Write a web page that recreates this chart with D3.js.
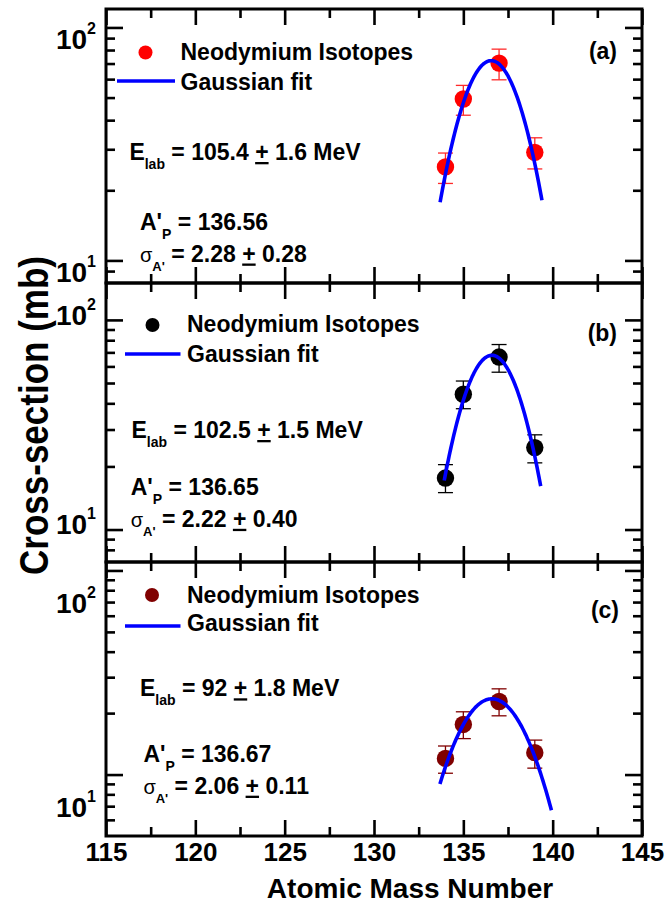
<!DOCTYPE html>
<html>
<head>
<meta charset="utf-8">
<script src="https://cdn.jsdelivr.net/npm/d3@7"></script>
<style>
  html, body { margin: 0; padding: 0; background: #fff; }
  svg { display: block; font-family: "Liberation Sans", Arial, sans-serif; font-weight: bold; }
  text { white-space: pre; }
</style>
</head>
<body>
<div id="chart"></div>
<script>
// ---- data ----
const massNumbers = [134, 135, 137, 139];
const panelLabels = ["(a)", "(b)", "(c)"];

const crossSectionA = [25.2, 49.3, 70.3, 29.1];
const errHighA = [28.9, 56.4, 80.7, 33.6];
const errLowA = [21.4, 42.0, 59.6, 24.7];

const crossSectionB = [17.6, 44.2, 66.5, 24.6];
const errHighB = [20.4, 51.1, 76.3, 28.3];
const errLowB = [15.0, 37.7, 56.3, 20.8];

const crossSectionC = [12.0, 17.6, 22.8, 12.8];
const errHighC = [13.8, 20.3, 26.3, 14.75];
const errLowC = [10.15, 15.0, 19.4, 10.75];

// gaussian fit curves (as drawn)
const fitCentroid = [136.56, 136.60, 136.60];
const fitPeak = [72, 67.8, 23.5];
const fitWidth = [1.71, 1.61, 2.10];
const fitFrom = [133.7, 133.93, 133.69];
const fitTo = [139.4, 139.33, 139.93];

// annotations
const energyLab = ["105.4", "102.5", "92"];
const energyErr = ["1.6", "1.5", "1.8"];
const apValues = ["136.56", "136.65", "136.67"];
const sigmaValues = ["2.28", "2.22", "2.06"];
const sigmaErr = ["0.28", "0.40", "0.11"];

// axes
const yDomains = [[8, 120], [7, 150], [5, 110]];
const xMajorTicks = [115, 120, 125, 130, 135, 140, 145];
const xMinorTicks = [117.5, 122.5, 127.5, 132.5, 137.5, 142.5];
const yMajorTicks = [10, 100];
const yMinorTicks = [2, 3, 4, 5, 6, 7, 8, 9, 20, 30, 40, 50, 60, 70, 80, 90];
const yMajorExponents = ["1", "2"];

// ---- layout ----
const width = 667, height = 903;
const left = 106, right = 642;
const panelTops = [9, 283, 562];
const panelBottoms = [283, 562, 836];
const pointColors = ["#ff0000", "#000000", "#800000"];
const barColors = ["#ff2a2a", "#000000", "#800000"];
const labelBaseShift = [21.5, 4.7, 42.2];
const layout = [
    { dot: [145.5, 52.5], line: [117, 175, 81], txt: [180.5, 60, 90], tag: [617, 59], elab: [129.4, 160], ap: [140, 230], sig: [140, 261.5] },
    { dot: [152.5, 325], line: [125, 180.5, 354], txt: [187, 332.3, 361.8], tag: [617, 340.7], elab: [131.5, 438], ap: [130.7, 495], sig: [130.7, 526.8] },
    { dot: [152, 595], line: [125, 180.5, 626], txt: [187, 602.6, 631.3], tag: [619, 617.8], elab: [140, 696.3], ap: [143.4, 761.6], sig: [143.4, 793.7] }
];

const series = [
    { v: crossSectionA, hi: errHighA, lo: errLowA },
    { v: crossSectionB, hi: errHighB, lo: errLowB },
    { v: crossSectionC, hi: errHighC, lo: errLowC }
];

const svg = d3.select("#chart").append("svg")
    .attr("width", width)
    .attr("height", height)
    .style("background", "#fff");

const x = d3.scaleLinear().domain([115, 145]).range([left, right]);

function styleAxis(g) {
    g.select(".domain").remove();
    g.selectAll(".tick line").attr("stroke", "#000").attr("stroke-width", 2.6);
}

series.forEach((s, i) => {
    const top = panelTops[i], bottom = panelBottoms[i];
    const y = d3.scaleLog().domain(yDomains[i]).range([bottom, top]);
    const [d0, d1] = yDomains[i];
    const minors = yMinorTicks.filter(v => v > d0 && v < d1);

    // ticks (all inward)
    svg.append("g").attr("transform", `translate(${left},0)`)
        .call(d3.axisLeft(y).tickValues(yMajorTicks).tickSize(-17).tickFormat("")).call(styleAxis);
    svg.append("g").attr("transform", `translate(${left},0)`)
        .call(d3.axisLeft(y).tickValues(minors).tickSize(-9).tickFormat("")).call(styleAxis);
    svg.append("g").attr("transform", `translate(${right},0)`)
        .call(d3.axisRight(y).tickValues(yMajorTicks).tickSize(-17).tickFormat("")).call(styleAxis);
    svg.append("g").attr("transform", `translate(${right},0)`)
        .call(d3.axisRight(y).tickValues(minors).tickSize(-9).tickFormat("")).call(styleAxis);

    svg.append("g").attr("transform", `translate(0,${top})`)
        .call(d3.axisTop(x).tickValues(xMajorTicks).tickSize(-16).tickFormat("")).call(styleAxis);
    svg.append("g").attr("transform", `translate(0,${top})`)
        .call(d3.axisTop(x).tickValues(xMinorTicks).tickSize(-9).tickFormat("")).call(styleAxis);
    const bx = svg.append("g").attr("transform", `translate(0,${bottom})`)
        .call(d3.axisBottom(x).tickValues(xMajorTicks).tickSize(-16).tickPadding(7)
            .tickFormat(i === 2 ? d3.format("d") : ""))
        .call(styleAxis);
    bx.selectAll("text").attr("fill", "#000").style("font-size", "26px").style("font-weight", "bold")
        .style("font-family", '"Liberation Sans", Arial, sans-serif');
    svg.append("g").attr("transform", `translate(0,${bottom})`)
        .call(d3.axisBottom(x).tickValues(xMinorTicks).tickSize(-9).tickFormat("")).call(styleAxis);

    // decade labels
    yMajorTicks.forEach((v, k) => {
        const t = svg.append("text")
            .attr("x", left - 10)
            .attr("y", y(v) + labelBaseShift[i])
            .attr("text-anchor", "end")
            .style("font-size", "28px");
        t.append("tspan").text("10");
        t.append("tspan").attr("dy", -15).style("font-size", "16px").text(yMajorExponents[k]);
    });

    // frame
    svg.append("rect")
        .attr("x", left).attr("y", top)
        .attr("width", right - left).attr("height", bottom - top)
        .attr("fill", "none").attr("stroke", "#000").attr("stroke-width", 3);

    // error bars
    const bars = svg.append("g").attr("stroke", barColors[i]).attr("stroke-width", 1.3);
    massNumbers.forEach((m, k) => {
        const cx = x(m);
        bars.append("line").attr("x1", cx).attr("x2", cx).attr("y1", y(s.lo[k])).attr("y2", y(s.hi[k]));
        bars.append("line").attr("x1", cx - 7.5).attr("x2", cx + 7.5).attr("y1", y(s.lo[k])).attr("y2", y(s.lo[k]));
        bars.append("line").attr("x1", cx - 7.5).attr("x2", cx + 7.5).attr("y1", y(s.hi[k])).attr("y2", y(s.hi[k]));
    });

    // points
    svg.append("g").selectAll("circle")
        .data(massNumbers)
        .join("circle")
        .attr("cx", d => x(d))
        .attr("cy", (d, k) => y(s.v[k]))
        .attr("r", 8.7)
        .attr("fill", pointColors[i]);

    // gaussian fit
    const xs = d3.range(0, 121).map(k => fitFrom[i] + (fitTo[i] - fitFrom[i]) * k / 120);
    const line = d3.line()
        .x(d => x(d))
        .y(d => y(fitPeak[i] * Math.exp(-Math.pow(d - fitCentroid[i], 2) / (2 * fitWidth[i] * fitWidth[i]))));
    svg.append("path")
        .attr("d", line(xs))
        .attr("fill", "none")
        .attr("stroke", "#0000ff")
        .attr("stroke-width", 3.6);

    // legend
    const L = layout[i];
    svg.append("circle").attr("cx", L.dot[0]).attr("cy", L.dot[1]).attr("r", 7).attr("fill", pointColors[i]);
    svg.append("line").attr("x1", L.line[0]).attr("x2", L.line[1]).attr("y1", L.line[2]).attr("y2", L.line[2])
        .attr("stroke", "#0000ff").attr("stroke-width", 3.6);
    svg.append("text").attr("x", L.txt[0]).attr("y", L.txt[1]).style("font-size", "23px").text("Neodymium Isotopes");
    svg.append("text").attr("x", L.txt[0]).attr("y", L.txt[2]).style("font-size", "23px").text("Gaussian fit");

    // panel tag
    svg.append("text").attr("x", L.tag[0]).attr("y", L.tag[1]).attr("text-anchor", "end")
        .style("font-size", "23px").text(panelLabels[i]);

    // E_lab
    const e = svg.append("text").attr("x", L.elab[0]).attr("y", L.elab[1]).style("font-size", "23px");
    e.append("tspan").text("E");
    e.append("tspan").attr("dy", 9).style("font-size", "14px").text("lab");
    e.append("tspan").attr("dy", -9).text(` = ${energyLab[i]} `);
    e.append("tspan").attr("text-decoration", "underline").text("+");
    e.append("tspan").text(` ${energyErr[i]} MeV`);

    // A'_P
    const a = svg.append("text").attr("x", L.ap[0]).attr("y", L.ap[1]).style("font-size", "23px");
    a.append("tspan").text("A'");
    a.append("tspan").attr("dy", 9).style("font-size", "14px").text("P");
    a.append("tspan").attr("dy", -9).text(` = ${apValues[i]}`);

    // sigma_A'
    const sg = svg.append("text").attr("x", L.sig[0]).attr("y", L.sig[1]).style("font-size", "23px");
    sg.append("tspan").style("font-size", "20px").style("font-weight", "normal").text("σ");
    sg.append("tspan").attr("dy", 9).style("font-size", "13px").text("A'");
    sg.append("tspan").attr("dy", -9).text(` = ${sigmaValues[i]} `);
    sg.append("tspan").attr("text-decoration", "underline").text("+");
    sg.append("tspan").text(` ${sigmaErr[i]}`);
});

// axis titles
svg.append("text")
    .attr("x", 410).attr("y", 898)
    .attr("text-anchor", "middle")
    .style("font-size", "28px")
    .text("Atomic Mass Number");

svg.append("text")
    .attr("transform", "translate(48,415.5) rotate(-90)")
    .attr("text-anchor", "middle")
    .attr("textLength", 319)
    .attr("lengthAdjust", "spacingAndGlyphs")
    .style("font-size", "40px")
    .text("Cross-section (mb)");
</script>
</body>
</html>
